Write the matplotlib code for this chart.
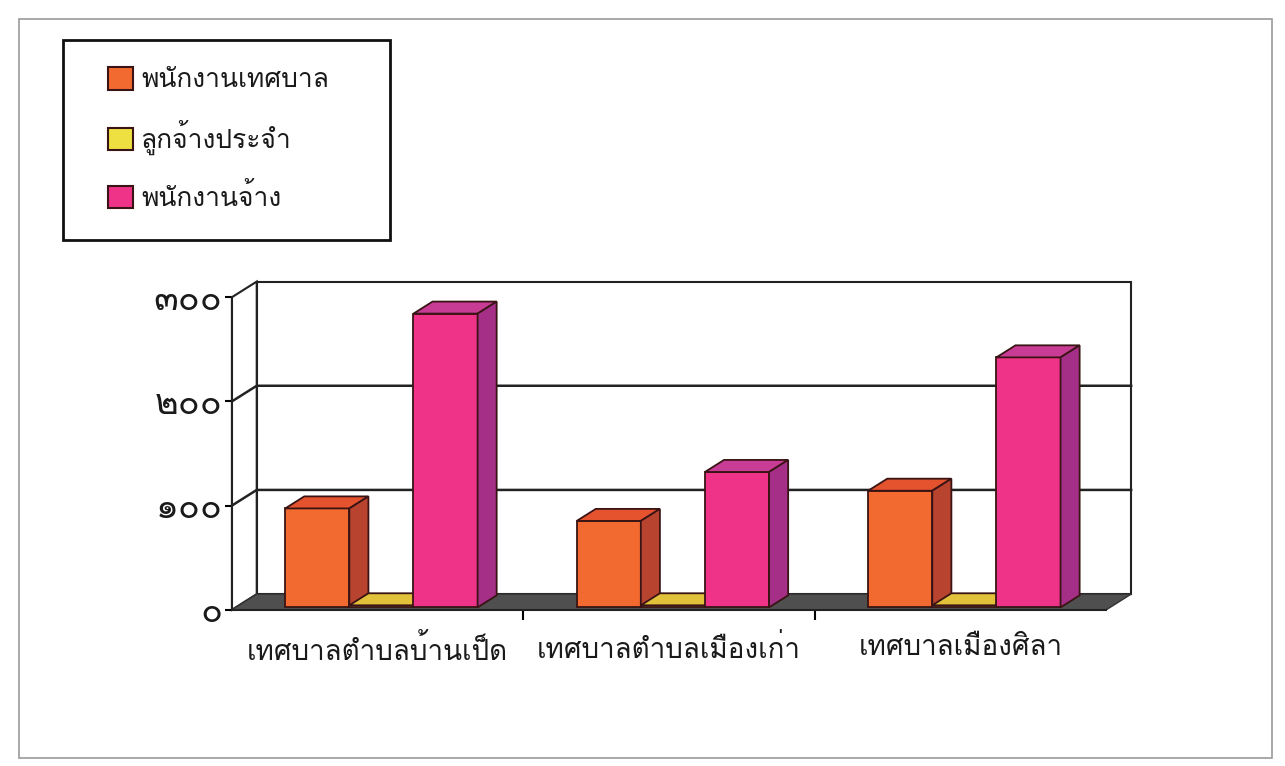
import numpy as np
import matplotlib.pyplot as plt
from matplotlib import font_manager, ft2font
from matplotlib.patches import Patch, Polygon, Rectangle


def find_thai_font():
    # look for any installed family that has Thai glyphs
    for f in font_manager.fontManager.ttflist:
        try:
            cmap = ft2font.FT2Font(f.fname).get_charmap()
        except Exception:
            continue
        if 0x0E01 in cmap and 0x0E50 in cmap:
            return f.name
    return 'DejaVu Sans'


categories = ['เทศบาลตำบลบ้านเป็ด', 'เทศบาลตำบลเมืองเก่า', 'เทศบาลเมืองศิลา']
series_names = ['พนักงานเทศบาล', 'ลูกจ้างประจำ', 'พนักงานจ้าง']
municipal_staff = [95, 83, 112]
permanent_staff = [2, 2, 2]
contract_staff = [282, 130, 240]
y_ticks = [0, 100, 200, 300]
y_tick_labels = ['๐', '๑๐๐', '๒๐๐', '๓๐๐']

thai = find_thai_font()
plt.rcParams['font.family'] = [thai, 'DejaVu Sans']
plt.rcParams['text.color'] = '#1a1a1a'

front_colors = ['#F26A30', '#EDE040', '#EE3388']
top_colors = ['#E4532E', '#E2C23A', '#C83C96']
side_colors = ['#B8432F', '#C9A830', '#A52F86']
edge = '#3A1414'

fig = plt.figure(figsize=(12.85, 7.66), dpi=100)
ax = fig.add_axes([0.1805, 0.204, 0.6805, 0.408])
ax.set_xlim(-0.5, 2.5)
ax.set_ylim(0, 300)

# depth of the 3d box (in data units) and of the bars
dxw, dyw = 0.085, 15
f0, f1 = 0.15, 0.92

# back wall, side wall, floor
ax.add_patch(Polygon([(-0.5 + dxw, dyw), (2.5 + dxw, dyw), (2.5 + dxw, 300 + dyw),
                      (-0.5 + dxw, 300 + dyw)], closed=True, fc='white', ec='#222', lw=1.5,
                     clip_on=False, zorder=0))
ax.add_patch(Polygon([(-0.5, 0), (-0.5, 300), (-0.5 + dxw, 300 + dyw), (-0.5 + dxw, dyw)],
                     closed=True, fc='white', ec='#222', lw=1.5, clip_on=False, zorder=0))
ax.add_patch(Polygon([(-0.5, 0), (2.5, 0), (2.5 + dxw, dyw), (-0.5 + dxw, dyw)],
                     closed=True, fc='#4f4f4f', ec='#333', lw=1, clip_on=False, zorder=1))
for v in y_ticks[1:3]:
    ax.plot([-0.5, -0.5 + dxw, 2.5 + dxw], [v, v + dyw, v + dyw], color='#222', lw=1.8,
            clip_on=False, zorder=0.5)

# bars
x = np.arange(len(categories))
width = 0.22
offsets = [-width, 0, width]
series = [municipal_staff, permanent_staff, contract_staff]
z = 2
for i in range(len(categories)):
    for j, vals in enumerate(series):
        left = x[i] + offsets[j] - width / 2 + f0 * dxw
        base = f0 * dyw
        h = vals[i]
        ddx, ddy = (f1 - f0) * dxw, (f1 - f0) * dyw
        ax.bar(left, h, width, bottom=base, align='edge', color=front_colors[j],
               edgecolor=edge, lw=1.3, zorder=z, clip_on=False)
        ax.add_patch(Polygon([(left, base + h), (left + width, base + h),
                              (left + width + ddx, base + h + ddy), (left + ddx, base + h + ddy)],
                             closed=True, fc=top_colors[j], ec=edge, lw=1.3, zorder=z,
                             clip_on=False))
        ax.add_patch(Polygon([(left + width, base), (left + width + ddx, base + ddy),
                              (left + width + ddx, base + h + ddy), (left + width, base + h)],
                             closed=True, fc=side_colors[j], ec=edge, lw=1.3, zorder=z,
                             clip_on=False))
        z += 1

for s in ['top', 'right']:
    ax.spines[s].set_visible(False)
for s in ['left', 'bottom']:
    ax.spines[s].set_color('#222')
    ax.spines[s].set_linewidth(1.5)
    ax.spines[s].set_zorder(50)
ax.patch.set_visible(False)

ax.set_yticks(y_ticks)
ax.set_yticklabels(y_tick_labels, fontsize=26)
ax.set_xticks([0.5, 1.5])
ax.set_xticklabels([])
ax.tick_params(axis='y', length=5, width=1.5, pad=2, labelcolor='#1a1a1a')
ax.tick_params(axis='x', length=7, width=1.5)
for i, c in enumerate(categories):
    ax.text(x[i], -24, c, ha='center', va='top', fontsize=20)

# legend: frame drawn separately so its padding can match
fig.add_artist(Rectangle((63 / 1285, 1 - 240 / 766), 327 / 1285, 200 / 766,
                         transform=fig.transFigure, fill=False, ec='#111', lw=2))
handles = [Patch(fc=front_colors[j], ec=edge, lw=1.5) for j in range(3)]
fig.legend(handles, series_names, loc='upper left', bbox_to_anchor=(108 / 1285, 1 - 67 / 766),
           fontsize=19, frameon=False, borderpad=0, borderaxespad=0,
           labelspacing=1.05, handlelength=0.95, handleheight=0.95, handletextpad=0.3)

# page frame
fig.add_artist(Rectangle((0.015, 0.01), 0.975, 0.965, transform=fig.transFigure,
                         fill=False, ec='#9a9a9a', lw=1.2))

fig.savefig('out.png', dpi=100)
